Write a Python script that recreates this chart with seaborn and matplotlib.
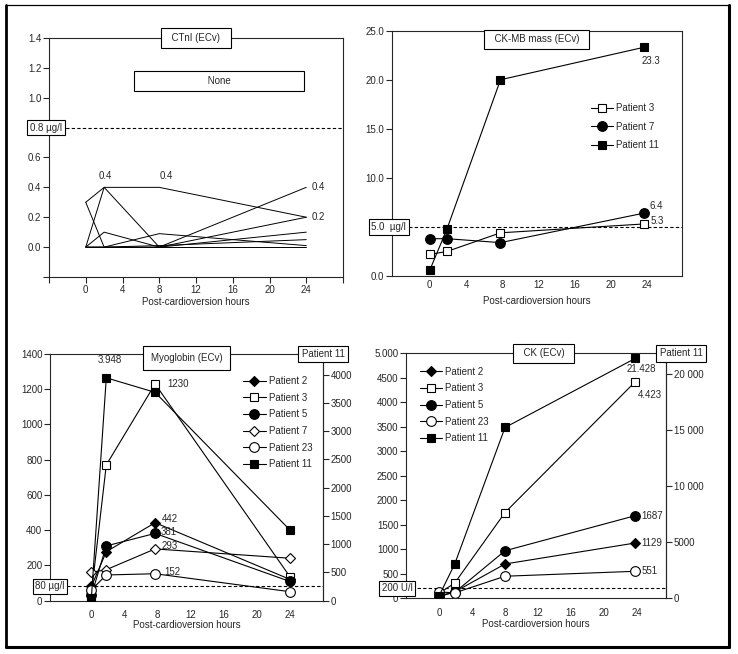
import numpy as np
import pandas as pd
import seaborn as sns
import matplotlib.pyplot as plt
from matplotlib.lines import Line2D
import matplotlib.transforms as mtransforms

# -----------------------------
# Data
# -----------------------------

# CTnI (ECv), ug/l, no markers
ctni_hours = [0, 2, 8, 24]
ctni_a = [0.3, 0.0, 0.09, 0.01]
ctni_b = [0.0, 0.4, 0.4, 0.2]
ctni_c = [0.3, 0.4, 0.0, 0.4]
ctni_d = [0.0, 0.1, 0.0, 0.2]
ctni_e = [0.0, 0.0, 0.0, 0.1]
ctni_f = [0.0, 0.0, 0.0, 0.0]
ctni_g = [0.0, 0.0, 0.01, 0.05]
ctni_lines = [ctni_a, ctni_b, ctni_c, ctni_d, ctni_e, ctni_f, ctni_g]

# CK-MB mass (ECv), ug/l
ckmb_hours = [0, 1.9, 7.8, 23.6]
ckmb_p3 = [2.2, 2.5, 4.4, 5.3]
ckmb_p7 = [3.8, 3.8, 3.4, 6.4]
ckmb_p11 = [0.6, 4.8, 20.0, 23.3]

# Myoglobin (ECv), ug/l ; Patient 11 on the right axis
myo_hours = [0, 1.8, 7.7, 24]
myo_p2 = [80, 277, 442, 120]
myo_p3 = [40, 770, 1230, 135]
myo_p5 = [30, 310, 381, 108]
myo_p7 = [160, 175, 293, 240]
myo_p23 = [60, 145, 152, 50]
myo_p11 = [50, 3948, 3690, 1250]

# CK (ECv), U/l ; Patient 11 on the right axis
ck_hours = [0, 1.9, 8, 23.8]
ck_p2 = [30, 130, 700, 1129]
ck_p3 = [100, 310, 1750, 4423]
ck_p5 = [60, 120, 970, 1687]
ck_p23 = [130, 110, 450, 551]
ck_p11 = [200, 3050, 15250, 21428]

hour_ticks = [0, 4, 8, 12, 16, 20, 24]
ctni_yticks = [-0.2, 0.0, 0.2, 0.4, 0.6, 0.8, 1.0, 1.2, 1.4]
ctni_ytick_labels = ['', '0.0', '0.2', '0.4', '0.6', '', '1.0', '1.2', '1.4']
ckmb_yticks = [0, 5, 10, 15, 20, 25]
ckmb_ytick_labels = ['0.0', '', '10.0', '15.0', '20.0', '25.0']
myo_yticks = [0, 200, 400, 600, 800, 1000, 1200, 1400]
myo_y2ticks = [0, 500, 1000, 1500, 2000, 2500, 3000, 3500, 4000]
ck_yticks = [0, 500, 1000, 1500, 2000, 2500, 3000, 3500, 4000, 4500, 5000]
ck_ytick_labels = ['0', '500', '1000', '1500', '2000', '2500', '3000',
                   '3500', '4000', '4500', '5.000']
ck_y2ticks = [0, 5000, 10000, 15000, 20000]
ck_y2tick_labels = ['0', '5000', '10 000', '15 000', '20 000']

# -----------------------------
# Style
# -----------------------------

sns.set_style('ticks')
plt.rcParams['font.family'] = ['Liberation Sans', 'DejaVu Sans']
plt.rcParams['axes.linewidth'] = 0.8
plt.rcParams['xtick.major.width'] = 0.8
plt.rcParams['ytick.major.width'] = 0.8

FS = 7
SMALL_BOX = dict(boxstyle='square,pad=0.28', fc='white', ec='black', lw=0.8)

fig = plt.figure(figsize=(7.38, 6.54), dpi=100)

ax_tl = fig.add_axes([0.0664, 0.5765, 0.3984, 0.3654])
ax_tr = fig.add_axes([0.5308, 0.5780, 0.3930, 0.3751])
ax_bl = fig.add_axes([0.0678, 0.0818, 0.3699, 0.3769])
ax_br = fig.add_axes([0.5501, 0.0852, 0.3523, 0.3746])


def series(ax, hours, values, marker, filled, label, ms=6):
    sns.lineplot(x=hours, y=values, ax=ax, color='black', lw=0.8,
                 marker=marker, markersize=ms,
                 markerfacecolor='black' if filled else 'white',
                 markeredgecolor='black', markeredgewidth=0.8,
                 sort=False, legend=False)
    line = ax.lines[-1]
    line.set_label(label)
    return line


def base_axes(ax, xlim, ylim, yticks, ylabels, labelpad=2):
    ax.set_xlim(*xlim)
    ax.set_ylim(*ylim)
    ax.set_yticks(yticks)
    ax.set_yticklabels(ylabels, fontsize=FS)
    ax.tick_params(axis='y', direction='out', length=4, pad=1.5)
    ax.set_xlabel('Post-cardioversion hours', fontsize=FS, labelpad=labelpad)
    ax.set_ylabel('')
    for s in ax.spines.values():
        s.set_visible(True)


def threshold(ax, value, text, xpos=0.0):
    ax.axhline(value, color='black', lw=0.8, ls=(0, (3, 2)), zorder=1)
    tr = mtransforms.blended_transform_factory(ax.transAxes, ax.transData)
    ax.text(xpos, value, text, transform=tr, ha='center', va='center',
            fontsize=FS, bbox=SMALL_BOX, zorder=6, clip_on=False)


def title_box(ax, text, y=1.0, x=0.5, pad=0.45):
    ax.text(x, y, text, transform=ax.transAxes, ha='center', va='center',
            fontsize=FS, zorder=6, clip_on=False,
            bbox=dict(boxstyle='square,pad=%.2f' % pad, fc='white',
                      ec='black', lw=0.8))


# -----------------------------
# CTnI
# -----------------------------

for vals in ctni_lines:
    sns.lineplot(x=ctni_hours, y=vals, ax=ax_tl, color='black', lw=0.7,
                 sort=False, legend=False)

base_axes(ax_tl, (-4, 28), (-0.2, 1.4), ctni_yticks, ctni_ytick_labels,
          labelpad=1)
ax_tl.set_xticks([-4] + hour_ticks + [28])
ax_tl.set_xticklabels([''] + [str(h) for h in hour_ticks] + [''], fontsize=FS)
ax_tl.tick_params(axis='x', direction='out', length=4, pad=2)

threshold(ax_tl, 0.8, '0.8 µg/l', xpos=-0.01)
title_box(ax_tl, '  CTnI (ECv)  ', pad=0.55)
ax_tl.text(0.578, 0.82, ' ' * 25 + 'None' + ' ' * 25, transform=ax_tl.transAxes,
           ha='center', va='center', fontsize=FS,
           bbox=dict(boxstyle='square,pad=0.5', fc='white', ec='black', lw=0.8))

ax_tl.annotate('%.1f' % ctni_b[1], (ctni_hours[1], ctni_b[1]), xytext=(1, 6),
               textcoords='offset pixels', ha='center', va='bottom', fontsize=FS)
ax_tl.annotate('%.1f' % ctni_b[2], (ctni_hours[2], ctni_b[2]), xytext=(7, 6),
               textcoords='offset pixels', ha='center', va='bottom', fontsize=FS)
ax_tl.annotate('%.1f' % ctni_c[3], (ctni_hours[3], ctni_c[3]), xytext=(5, 0),
               textcoords='offset pixels', ha='left', va='center', fontsize=FS)
ax_tl.annotate('%.1f' % ctni_b[3], (ctni_hours[3], ctni_b[3]), xytext=(5, 0),
               textcoords='offset pixels', ha='left', va='center', fontsize=FS)

# -----------------------------
# CK-MB mass
# -----------------------------

h3 = series(ax_tr, ckmb_hours, ckmb_p3, 's', False, 'Patient 3', ms=6)
h7 = series(ax_tr, ckmb_hours, ckmb_p7, 'o', True, 'Patient 7', ms=7)
h11 = series(ax_tr, ckmb_hours, ckmb_p11, 's', True, 'Patient 11', ms=6)

base_axes(ax_tr, (-4.2, 27.8), (0, 25), ckmb_yticks, ckmb_ytick_labels,
          labelpad=4)
ax_tr.set_xticks(hour_ticks)
ax_tr.set_xticklabels([str(h) for h in hour_ticks], fontsize=FS)
ax_tr.tick_params(axis='x', length=0, pad=3)

threshold(ax_tr, 5.0, '5.0  µg/l', xpos=-0.01)
title_box(ax_tr, '  CK-MB mass (ECv)  ', y=0.965, pad=0.45)
ax_tr.legend(handles=[h3, h7, h11], loc='upper left',
             bbox_to_anchor=(0.67, 0.725), frameon=False, fontsize=FS,
             handlelength=2.3, handletextpad=0.3, labelspacing=0.9,
             borderpad=0, numpoints=1)

ax_tr.annotate('%.1f' % ckmb_p11[3], (ckmb_hours[3], ckmb_p11[3]), xytext=(7, -9),
               textcoords='offset pixels', ha='center', va='top', fontsize=FS)
ax_tr.annotate('%.1f' % ckmb_p7[3], (ckmb_hours[3], ckmb_p7[3]), xytext=(6, 7),
               textcoords='offset pixels', ha='left', va='center', fontsize=FS)
ax_tr.annotate('%.1f' % ckmb_p3[3], (ckmb_hours[3], ckmb_p3[3]), xytext=(7, 3),
               textcoords='offset pixels', ha='left', va='center', fontsize=FS)

# -----------------------------
# Myoglobin
# -----------------------------

ax_bl2 = ax_bl.twinx()
m2 = series(ax_bl, myo_hours, myo_p2, 'D', True, 'Patient 2', ms=5.5)
m3 = series(ax_bl, myo_hours, myo_p3, 's', False, 'Patient 3', ms=6)
m5 = series(ax_bl, myo_hours, myo_p5, 'o', True, 'Patient 5', ms=7)
m7 = series(ax_bl, myo_hours, myo_p7, 'D', False, 'Patient 7', ms=5.5)
m23 = series(ax_bl, myo_hours, myo_p23, 'o', False, 'Patient 23', ms=7)
m11 = series(ax_bl2, myo_hours, myo_p11, 's', True, 'Patient 11', ms=6)

base_axes(ax_bl, (-5, 28), (0, 1400), myo_yticks, [str(v) for v in myo_yticks],
          labelpad=0)
ax_bl.set_xticks(hour_ticks)
ax_bl.set_xticklabels([str(h) for h in hour_ticks], fontsize=FS)
ax_bl.tick_params(axis='x', length=0, pad=7)
ax_bl2.set_ylim(0, 4370)
ax_bl2.set_yticks(myo_y2ticks)
ax_bl2.set_yticklabels([str(v) for v in myo_y2ticks], fontsize=FS)
ax_bl2.tick_params(axis='y', direction='out', length=4, pad=1.5)
ax_bl2.set_ylabel('')
for s in ['left', 'top', 'bottom']:
    ax_bl2.spines[s].set_visible(False)

threshold(ax_bl, 80, '80 µg/l', xpos=0.0)
title_box(ax_bl, 'Myoglobin (ECv)', y=0.984, pad=0.75)
ax_bl2.text(1.0, 1.0, 'Patient 11', transform=ax_bl2.transAxes, ha='center',
            va='center', fontsize=FS, zorder=6, clip_on=False,
            bbox=dict(boxstyle='square,pad=0.35', fc='white', ec='black', lw=0.8))
ax_bl.legend(handles=[m2, m3, m5, m7, m23, m11], loc='upper left',
             bbox_to_anchor=(0.69, 0.93), frameon=False, fontsize=FS,
             handlelength=2.3, handletextpad=0.3, labelspacing=0.68,
             borderpad=0, numpoints=1)

ax_bl2.annotate('3.948', (myo_hours[1], myo_p11[1]), xytext=(4, 13),
                textcoords='offset pixels', ha='center', va='bottom', fontsize=FS)
ax_bl.annotate(str(myo_p3[2]), (myo_hours[2], myo_p3[2]), xytext=(12, 0),
               textcoords='offset pixels', ha='left', va='center', fontsize=FS)
ax_bl.annotate(str(myo_p2[2]), (myo_hours[2], myo_p2[2]), xytext=(7, 4),
               textcoords='offset pixels', ha='left', va='center', fontsize=FS)
ax_bl.annotate(str(myo_p5[2]), (myo_hours[2], myo_p5[2]), xytext=(6, 1),
               textcoords='offset pixels', ha='left', va='center', fontsize=FS)
ax_bl.annotate(str(myo_p7[2]), (myo_hours[2], myo_p7[2]), xytext=(6, 3),
               textcoords='offset pixels', ha='left', va='center', fontsize=FS)
ax_bl.annotate(str(myo_p23[2]), (myo_hours[2], myo_p23[2]), xytext=(9, 2),
               textcoords='offset pixels', ha='left', va='center', fontsize=FS)

# -----------------------------
# CK
# -----------------------------

ax_br2 = ax_br.twinx()
c2 = series(ax_br, ck_hours, ck_p2, 'D', True, 'Patient 2', ms=5.5)
c3 = series(ax_br, ck_hours, ck_p3, 's', False, 'Patient 3', ms=6)
c5 = series(ax_br, ck_hours, ck_p5, 'o', True, 'Patient 5', ms=7)
c23 = series(ax_br, ck_hours, ck_p23, 'o', False, 'Patient 23', ms=7)
c11 = series(ax_br2, ck_hours, ck_p11, 's', True, 'Patient 11', ms=6)

base_axes(ax_br, (-4, 27.5), (0, 5000), ck_yticks, ck_ytick_labels, labelpad=1)
ax_br.set_xticks(hour_ticks)
ax_br.set_xticklabels([str(h) for h in hour_ticks], fontsize=FS)
ax_br.tick_params(axis='x', length=0, pad=7)
ax_br2.set_ylim(0, 21875)
ax_br2.set_yticks(ck_y2ticks)
ax_br2.set_yticklabels(ck_y2tick_labels, fontsize=FS)
ax_br2.tick_params(axis='y', direction='out', length=4, pad=1.5)
ax_br2.set_ylabel('')
for s in ['left', 'top', 'bottom']:
    ax_br2.spines[s].set_visible(False)

threshold(ax_br, 200, '200 U/l', xpos=-0.033)
title_box(ax_br, '  CK (ECv)  ', y=1.0, x=0.53, pad=0.45)
ax_br2.text(1.058, 1.0, 'Patient 11', transform=ax_br2.transAxes, ha='center',
            va='center', fontsize=FS, zorder=6, clip_on=False,
            bbox=dict(boxstyle='square,pad=0.35', fc='white', ec='black', lw=0.8))
ax_br.legend(handles=[c2, c3, c5, c23, c11], loc='upper left',
             bbox_to_anchor=(0.035, 0.965), frameon=False, fontsize=FS,
             handlelength=2.3, handletextpad=0.3, labelspacing=0.68,
             borderpad=0, numpoints=1)

ax_br2.annotate('21.428', (ck_hours[3], ck_p11[3]), xytext=(6, -6),
                textcoords='offset pixels', ha='center', va='top', fontsize=FS)
ax_br.annotate('4.423', (ck_hours[3], ck_p3[3]), xytext=(14, -8),
               textcoords='offset pixels', ha='center', va='top', fontsize=FS)
ax_br.annotate(str(ck_p5[3]), (ck_hours[3], ck_p5[3]), xytext=(6, 0),
               textcoords='offset pixels', ha='left', va='center', fontsize=FS)
ax_br.annotate(str(ck_p2[3]), (ck_hours[3], ck_p2[3]), xytext=(6, 0),
               textcoords='offset pixels', ha='left', va='center', fontsize=FS)
ax_br.annotate(str(ck_p23[3]), (ck_hours[3], ck_p23[3]), xytext=(6, 0),
               textcoords='offset pixels', ha='left', va='center', fontsize=FS)

# -----------------------------
# Outer frame
# -----------------------------

W, H = 738.0, 654.0
x0, x1, y0, y1 = 6.5 / W, 728.5 / W, 1 - 5 / H, 1 - 646.5 / H
fig.add_artist(Line2D([x0, x1], [y0, y0], color='black', lw=0.9))
fig.add_artist(Line2D([x0, x0], [y0, y1], color='black', lw=2.0))
fig.add_artist(Line2D([x1, x1], [y0, y1], color='black', lw=2.2))
fig.add_artist(Line2D([x0, x1], [y1, y1], color='black', lw=2.2))

fig.savefig('out.png', dpi=100, facecolor='white')
